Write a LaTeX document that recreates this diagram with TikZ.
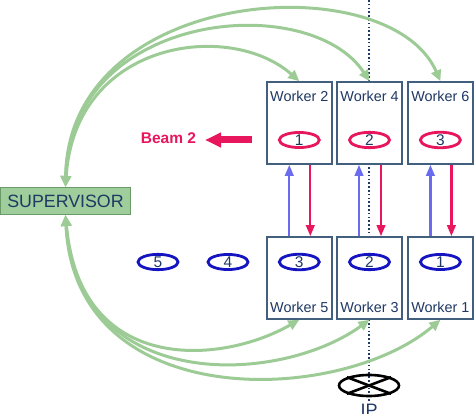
\documentclass[tikz,border=0pt]{standalone}
\usepackage{fontspec}
\setmainfont{Liberation Sans}
\usetikzlibrary{arrows.meta,shapes.geometric,calc}
\definecolor{navy}{HTML}{1F3864}
\definecolor{boxborder}{HTML}{42607E}
\definecolor{lgreen}{HTML}{9CCB96}
\definecolor{supfill}{HTML}{9FCD9B}
\definecolor{supborder}{HTML}{6A9A66}
\definecolor{beamred}{HTML}{E8175D}
\definecolor{arrblue}{HTML}{6B6BEF}
\definecolor{ellblue}{HTML}{1414C0}
\begin{document}
\begin{tikzpicture}[x=1pt,y=-1pt,
  wbox/.style={draw=boxborder, line width=1.6pt, fill=white, minimum width=65pt, minimum height=82pt, inner sep=0pt},
  wlabel/.style={text=navy, font=\fontsize{14.4}{16}\selectfont, inner sep=0pt},
  numell/.style={ellipse, line width=2.8pt, minimum width=40pt, minimum height=12.5pt, inner sep=0pt, text=navy, font=\fontsize{15.5}{16}\selectfont},
  redell/.style={numell, draw=beamred},
  blueell/.style={numell, draw=ellblue},
  gcurve/.style={draw=lgreen, line width=3pt, {Triangle[length=11pt,width=10pt]}-{Triangle[length=11pt,width=10pt]}},
  uparr/.style={draw=arrblue, line width=2.2pt, -{Triangle[length=11pt,width=8.5pt]}},
  downarr/.style={draw=beamred, line width=2.2pt, -{Triangle[length=11pt,width=8.5pt]}},
  ipline/.style={draw=navy, line width=1.9pt, dash pattern=on 1.6pt off 2.2pt}
]
\useasboundingbox (0,0) rectangle (474,414);

% dotted IP line
\coordinate (ltop) at (369,0);
\coordinate (lbot) at (369,402);
\draw[ipline] (ltop) -- (lbot);

% worker boxes
\node[wbox] (w2) at (299.3,123) {};
\node[wbox] (w4) at (369.5,123) {};
\node[wbox] (w6) at (440.4,123) {};
\node[wbox] (w5) at (299.3,278) {};
\node[wbox] (w3) at (369.5,278) {};
\node[wbox] (w1) at (440.4,278) {};

\node[wlabel] (l2) at (299.3,96) {Worker 2};
\node[wlabel] (l4) at (369.5,96) {Worker 4};
\node[wlabel] (l6) at (440.4,96) {Worker 6};
\node[wlabel] (l5) at (299.3,307) {Worker 5};
\node[wlabel] (l3) at (369.5,307) {Worker 3};
\node[wlabel] (l1) at (440.4,307) {Worker 1};

% bunches
\node[redell] (r1) at (299.3,140) {1};
\node[redell] (r2) at (369.5,140) {2};
\node[redell] (r3) at (440.4,140) {3};
\node[blueell] (b3) at (299.3,262) {3};
\node[blueell] (b2) at (369.5,262) {2};
\node[blueell] (b1) at (440.4,262) {1};
\node[blueell] (b4) at (228,262) {4};
\node[blueell] (b5) at (158,262) {5};

% vertical arrows
\draw[uparr] ([xshift=-10pt]w5.north) -- ([xshift=-10pt]w2.south);
\draw[downarr] ([xshift=11pt]w2.south) -- ([xshift=11pt]w5.north);
\draw[uparr] ([xshift=-10.5pt]w3.north) -- ([xshift=-10.5pt]w4.south);
\draw[downarr] ([xshift=11.5pt]w4.south) -- ([xshift=11.5pt]w3.north);
\draw[uparr] ([xshift=-10pt]w1.north) -- ([xshift=-10pt]w6.south);
\draw[downarr] ([xshift=11pt]w6.south) -- ([xshift=11pt]w1.north);

% supervisor
\node[draw=supborder, fill=supfill, line width=1pt, minimum width=130pt, minimum height=27pt, inner sep=0pt,
  text=navy, font=\fontsize{17.8}{20}\selectfont] (sup) at (65.5,201) {SUPERVISOR};

% green curves top
\draw[gcurve] (sup.north) .. controls (75,40) and (230,20) .. (w2.north);
\draw[gcurve] (sup.north) .. controls (70,10) and (310,-10) .. (w4.north);
\draw[gcurve] (sup.north) .. controls (68,-15) and (390,-35) .. (w6.north);
% green curves bottom
\draw[gcurve] (sup.south) .. controls (80,375) and (220,365) .. (w5.south);
\draw[gcurve] (sup.south) .. controls (78,395) and (280,385) .. (w3.south);
\draw[gcurve] (sup.south) .. controls (75,415) and (340,405) .. (w1.south);

% Beam 2
\node[text=beamred, font=\bfseries\fontsize{15.5}{18}\selectfont, inner sep=0pt, anchor=base] (beam) at (168.5,144) {Beam 2};
\coordinate (bs) at (252,140);
\coordinate (be) at (205,140);
\draw[draw=beamred, line width=7pt, -{Triangle[length=16pt,width=14pt]}] (bs) -- (be);

% IP
\node[ellipse, draw=black, line width=2.6pt, minimum width=60pt, minimum height=21pt, inner sep=0pt] (ip) at (369,385.5) {};
\draw[black, line width=2.6pt] (ip.north west) -- (ip.south east);
\draw[black, line width=2.6pt] (ip.south west) -- (ip.north east);
\node[text=navy, font=\fontsize{18}{20}\selectfont, inner sep=0pt, anchor=base] (iptext) at (369,416.5) {IP};
\end{tikzpicture}
\end{document}
